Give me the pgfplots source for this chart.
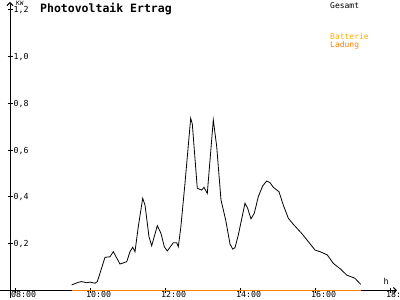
\documentclass[border=0pt]{standalone}
\usepackage{fontspec}
\setmainfont{DejaVu Sans Mono}
\usepackage{pgfplots}
\pgfplotsset{compat=1.18}
\usetikzlibrary{arrows.meta}
\definecolor{batterie}{RGB}{255,176,0}
\definecolor{ladung}{RGB}{255,128,0}
\begin{document}
\begin{tikzpicture}[x=1pt,y=1pt]
\useasboundingbox (0,0) rectangle (400,300);
\begin{axis}[
  at={(10pt,2pt)}, anchor=south west,
  scale only axis, width=387pt, height=296pt,
  xmin=7.8667, xmax=18.1867, ymin=-0.03205, ymax=1.23291,
  axis x line=middle, axis y line=left,
  axis line style={line width=1pt, -{Straight Barb[length=3pt,width=6pt]}},
  clip=false,
  xtick={8,10,12,14,16,18},
  xticklabels={08:00,10:00,12:00,14:00,16:00,18:00},
  ytick={0.2,0.4,0.6,0.8,1.0,1.2},
  yticklabels={{0,2},{0,4},{0,6},{0,8},{1,0},{1,2}},
  tick align=center, major tick length=5pt,
  tick style={line width=0.8pt, black},
  every tick label/.append style={font=\fontsize{8.3}{9}\selectfont, inner sep=0pt},
  xticklabel style={anchor=base west, xshift=-4pt, yshift=-5pt},
  yticklabel style={anchor=base west, xshift=6pt, yshift=-3pt},
]
\draw[line width=1pt] (axis cs:7.6,0) -- (axis cs:7.8667,0);
\addplot[black, line width=0.8pt] coordinates {
(9.512,0.024) (9.688,0.035) (9.779,0.038) (9.912,0.033) (10.0,0.036)
(10.133,0.031) (10.195,0.038) (10.267,0.074) (10.4,0.142) (10.533,0.144)
(10.621,0.166) (10.8,0.113) (10.979,0.123) (11.067,0.166) (11.139,0.185)
(11.2,0.166) (11.288,0.273) (11.405,0.394) (11.467,0.365) (11.573,0.230)
(11.645,0.191) (11.795,0.277) (11.893,0.244) (11.981,0.187) (12.061,0.169)
(12.221,0.204) (12.312,0.204) (12.355,0.187) (12.419,0.266) (12.533,0.458)
(12.685,0.736) (12.728,0.712) (12.861,0.437) (12.979,0.429) (13.04,0.441)
(13.128,0.415) (13.288,0.729) (13.379,0.615) (13.493,0.387) (13.619,0.301)
(13.733,0.199) (13.805,0.177) (13.867,0.183) (13.955,0.237) (14.133,0.373)
(14.205,0.351) (14.293,0.306) (14.381,0.330) (14.488,0.401) (14.605,0.447)
(14.712,0.468) (14.8,0.461) (14.888,0.441) (15.04,0.422) (15.155,0.365)
(15.288,0.309) (15.421,0.283) (15.645,0.244) (15.821,0.209) (16.0,0.173)
(16.133,0.166) (16.328,0.152) (16.488,0.116) (16.685,0.091) (16.845,0.066)
(17.067,0.052) (17.219,0.026)
};
\addplot[ladung, line width=1.2pt] coordinates {(9.512,0) (17.219,0)};
\end{axis}
\node[anchor=north west, inner sep=0pt, font=\bfseries\fontsize{11.5}{12}\selectfont] at (40,297) {Photovoltaik Ertrag};
\node[anchor=north west, inner sep=0pt, font=\fontsize{6}{7}\selectfont] at (16,299.5) {KW};
\node[anchor=base, inner sep=0pt, font=\fontsize{8.3}{9}\selectfont] at (386,15) {h};
\node[anchor=north west, inner sep=0pt, font=\fontsize{8}{9}\selectfont] at (330,298) {Gesamt};
\node[anchor=north west, inner sep=0pt, font=\fontsize{8}{9}\selectfont, text=batterie] at (330,267) {Batterie};
\node[anchor=north west, inner sep=0pt, font=\fontsize{8}{9}\selectfont, text=ladung] at (330,259) {Ladung};
\end{tikzpicture}
\end{document}
